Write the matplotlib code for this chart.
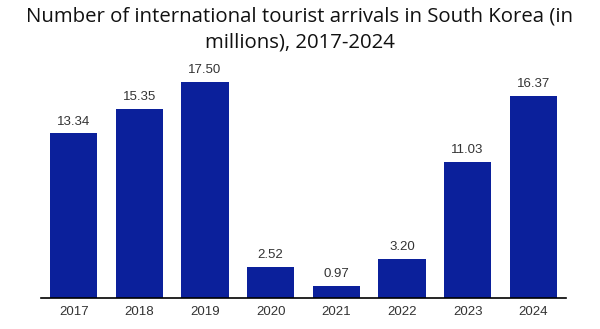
import matplotlib.pyplot as plt

# data
years = ['2017', '2018', '2019', '2020', '2021', '2022', '2023', '2024']
arrivals = [13.34, 15.35, 17.50, 2.52, 0.97, 3.20, 11.03, 16.37]

bar_color = '#0b209b'
text_color = '#333333'

fig = plt.figure(figsize=(6, 3.29), dpi=100)
ax = fig.add_axes([41 / 600, 31 / 329, 525 / 600, 0.72])

bars = ax.bar(years, arrivals, width=0.72, color=bar_color)
ax.bar_label(bars, labels=[f'{v:.2f}' for v in arrivals], padding=4,
             fontsize=9.5, color=text_color, family='Liberation Sans')

ax.set_xlim(-0.5, len(years) - 0.5)
ax.set_ylim(0, 17.5 * 0.72 * 329 / 216)

for side in ['top', 'right', 'left']:
    ax.spines[side].set_visible(False)
ax.spines['bottom'].set_linewidth(1.2)
ax.spines['bottom'].set_color('black')
ax.set_yticks([])
ax.tick_params(axis='x', length=0, pad=6, labelsize=9.5, labelcolor=text_color)
for lbl in ax.get_xticklabels():
    lbl.set_family('Liberation Sans')

fig.suptitle('Number of international tourist arrivals in South Korea (in\nmillions), 2017-2024',
             x=0.5, y=0.98, fontsize=14.7, color='#111111', family='Open Sans',
             linespacing=1.4)

fig.savefig('out.png', dpi=100)
